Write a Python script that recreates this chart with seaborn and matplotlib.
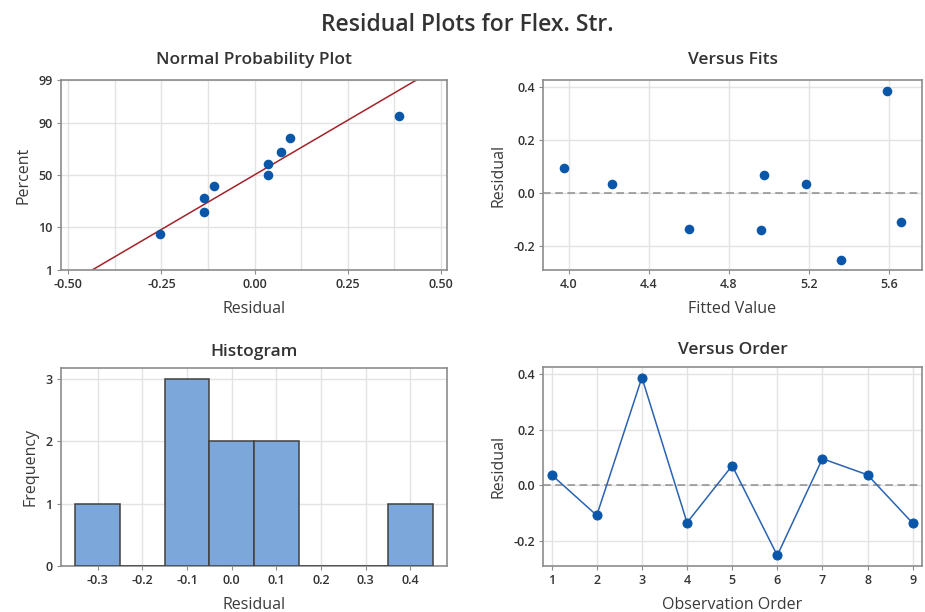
import numpy as np
import pandas as pd
import matplotlib
matplotlib.use("Agg")
import matplotlib.pyplot as plt
import seaborn as sns
from statistics import NormalDist

# ---------------- data ----------------
order = [1, 2, 3, 4, 5, 6, 7, 8, 9]
residuals = [0.037, -0.109, 0.387, -0.135, 0.070, -0.253, 0.095, 0.037, -0.137]
fitted = [4.218, 5.660, 5.588, 4.601, 4.976, 5.358, 3.975, 5.187, 4.962]
prob_percent = [7.4, 18.1, 28.7, 39.4, 50.0, 60.6, 71.3, 81.9, 92.6]
prob_ticks = [1, 10, 50, 90, 99]
hist_edges = [-0.35, -0.25, -0.15, -0.05, 0.05, 0.15, 0.25, 0.35, 0.45]

sns.set_theme(style="white")
plt.rcParams['font.family'] = ['Open Sans', 'DejaVu Sans']

TXT = "#333333"
LBL = "#3a3a3a"
FRAME = "#8c8c8c"
GRID = "#e3e3e3"
BLUE = "#0a56a8"
SEMI = 'semibold'

fig = plt.figure(figsize=(9.25, 6.12), dpi=100)
W, H = 925, 612

def add_ax(l, t, r, b):
    return fig.add_axes([l / W, 1 - b / H, (r - l) / W, (b - t) / H])

ax1 = add_ax(60.7, 80, 446.7, 270)
ax2 = add_ax(543.3, 80, 921.7, 270)
ax3 = add_ax(61, 368, 446.7, 566)
ax4 = add_ax(543.3, 367, 921.7, 566)

def style(ax, title, xlabel, ylabel, tpad):
    for s in ax.spines.values():
        s.set_color(FRAME)
        s.set_linewidth(1.2)
    ax.set_title(title, fontsize=12.5, color=TXT, pad=tpad, fontweight=SEMI)
    ax.set_xlabel(xlabel, fontsize=11.5, color=LBL, labelpad=7)
    ax.set_ylabel(ylabel, fontsize=11.5, color=LBL, labelpad=5)
    ax.tick_params(axis='both', which='major', labelsize=9, colors=TXT,
                   length=3, width=0.8, color=FRAME, pad=3, bottom=True, left=True)
    ax.tick_params(axis='both', which='minor', length=0)
    for lab in ax.get_xticklabels() + ax.get_yticklabels():
        lab.set_fontweight(SEMI)
    ax.set_axisbelow(True)

# ---------- Normal probability plot ----------
nd = NormalDist()
sres = np.sort(np.array(residuals))
z_pts = [nd.inv_cdf(p / 100) for p in prob_percent]
df_np = pd.DataFrame({"res": sres, "z": z_pts})
sns.scatterplot(data=df_np, x="res", y="z", ax=ax1, color=BLUE, s=48,
                edgecolor=BLUE, linewidth=0, zorder=3)
mu = float(np.mean(residuals))
sd = float(np.std(residuals, ddof=1))
zlo, zhi = nd.inv_cdf(0.01), nd.inv_cdf(0.99)
df_line = pd.DataFrame({"x": [mu + sd * zlo, mu + sd * zhi], "z": [zlo, zhi]})
sns.lineplot(data=df_line, x="x", y="z", ax=ax1, color="#a3232a", linewidth=1.1, zorder=2)
ax1.set_ylim(zlo, zhi)
ax1.set_yticks([nd.inv_cdf(p / 100) for p in prob_ticks])
ax1.set_yticklabels([str(p) for p in prob_ticks])
ax1.set_xlim(-0.52, 0.515)
ax1.set_xticks([-0.5, -0.25, 0.0, 0.25, 0.5])
ax1.set_xticklabels(["-0.50", "-0.25", "0.00", "0.25", "0.50"])
ax1.set_xticks(np.arange(-0.375, 0.5, 0.25), minor=True)
ax1.grid(True, which='both', axis='x', color=GRID, linewidth=1)
ax1.grid(True, which='major', axis='y', color=GRID, linewidth=1)
style(ax1, "Normal Probability Plot", "Residual", "Percent", 11.5)

# ---------- Versus fits ----------
df = pd.DataFrame({"order": order, "res": residuals, "fit": fitted})
ax2.axhline(0, color="#8f8f8f", linestyle=(0, (5, 3)), linewidth=1.1, zorder=2)
sns.scatterplot(data=df, x="fit", y="res", ax=ax2, color=BLUE, s=48,
                edgecolor=BLUE, linewidth=0, zorder=3)
ax2.set_xlim(3.873, 5.763)
ax2.set_ylim(-0.289, 0.428)
ax2.set_xticks([4.0, 4.4, 4.8, 5.2, 5.6])
ax2.set_yticks([-0.2, 0.0, 0.2, 0.4])
ax2.set_yticklabels(["-0.2", "0.0", "0.2", "0.4"])
ax2.grid(True, color=GRID, linewidth=1)
style(ax2, "Versus Fits", "Fitted Value", "Residual", 11.5)

# ---------- Histogram ----------
df_h = pd.DataFrame({"res": residuals})
sns.histplot(data=df_h, x="res", bins=hist_edges, ax=ax3, color="#7ba7da",
             edgecolor="#404040", linewidth=1.1, alpha=1, zorder=3)
ax3.set_xlim(-0.382, 0.481)
ax3.set_ylim(0, 3.17)
ax3.set_xticks([-0.3, -0.2, -0.1, 0.0, 0.1, 0.2, 0.3, 0.4])
ax3.set_xticklabels(["-0.3", "-0.2", "-0.1", "0.0", "0.1", "0.2", "0.3", "0.4"])
ax3.set_yticks([0, 1, 2, 3])
ax3.grid(True, color=GRID, linewidth=1)
style(ax3, "Histogram", "Residual", "Frequency", 9)

# ---------- Versus order ----------
ax4.axhline(0, color="#8f8f8f", linestyle=(0, (5, 3)), linewidth=1.1, zorder=2)
sns.lineplot(data=df, x="order", y="res", ax=ax4, color="#2a63b0", linewidth=1.1,
             marker="o", markersize=6.5, markerfacecolor=BLUE, markeredgecolor=BLUE, zorder=3)
ax4.set_xlim(0.815, 9.2)
ax4.set_ylim(-0.291, 0.425)
ax4.set_xticks(order)
ax4.set_yticks([-0.2, 0.0, 0.2, 0.4])
ax4.set_yticklabels(["-0.2", "0.0", "0.2", "0.4"])
ax4.grid(True, color=GRID, linewidth=1)
style(ax4, "Versus Order", "Observation Order", "Residual", 9)

fig.suptitle("Residual Plots for Flex. Str.", fontsize=16.5, color=TXT, y=0.979, x=0.505,
             fontweight=SEMI)

fig.savefig("out.png", dpi=100, facecolor="white")
